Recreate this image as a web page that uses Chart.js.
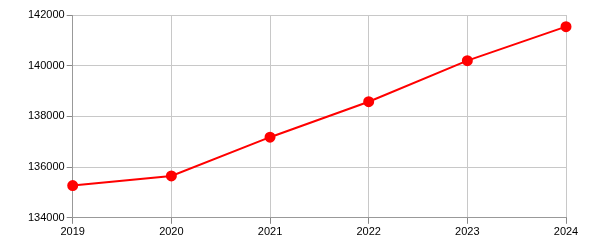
<!DOCTYPE html>
<html>
<head>
<meta charset="utf-8">
<script src="https://cdn.jsdelivr.net/npm/chart.js@4"></script>
<style>
  body { margin: 0; background: #fff; }
</style>
</head>
<body>
<canvas id="grafica" width="600" height="250"></canvas>
<script>
// datos
var years = ['2019', '2020', '2021', '2022', '2023', '2024'];
var values = [135270, 135650, 137180, 138580, 140200, 141540];
var yMin = 134000;
var yMax = 142000;
var yStep = 2000;

var ctx = document.getElementById('grafica').getContext('2d');
var grafica = new Chart(ctx, {
    type: 'line',
    data: {
        labels: years,
        datasets: [{
            data: values,
            borderColor: '#ff0000',
            backgroundColor: '#ff0000',
            borderWidth: 2,
            pointRadius: 4.5,
            pointHoverRadius: 4.5,
            tension: 0
        }]
    },
    options: {
        responsive: false,
        animation: false,
        layout: { padding: { left: 26, right: 34, top: 15, bottom: 9 } },
        plugins: { legend: { display: false }, tooltip: { enabled: false } },
        scales: {
            x: {
                grid: { color: '#c8c8c8', tickLength: 6, tickColor: '#888' },
                border: { color: '#999' },
                ticks: { color: '#000', font: { family: 'Liberation Sans', size: 11 }, padding: 2, maxRotation: 0 }
            },
            y: {
                min: yMin,
                max: yMax,
                grid: { color: '#c8c8c8', tickLength: 6, tickColor: '#888' },
                border: { color: '#999' },
                ticks: {
                    stepSize: yStep,
                    color: '#000',
                    font: { family: 'Liberation Sans', size: 11 },
                    padding: 2,
                    callback: function (v) { return String(v); }
                }
            }
        }
    }
});
</script>
</body>
</html>
